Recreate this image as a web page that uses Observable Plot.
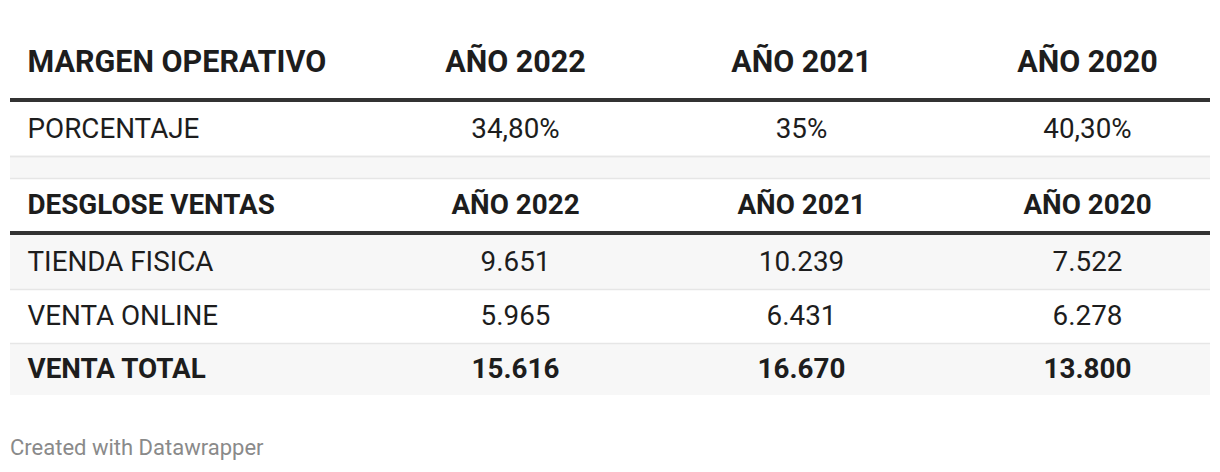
<!DOCTYPE html>
<html>
<head>
<meta charset="utf-8">
<script src="https://cdn.jsdelivr.net/npm/d3@7"></script>
<script src="https://cdn.jsdelivr.net/npm/@observablehq/plot@0.6"></script>
<style>
  html, body { margin: 0; padding: 0; background: #fff; }
  #chart svg { display: block; font-family: Roboto, "Noto Sans", sans-serif; }
  #caption { font-family: Roboto, "Noto Sans", sans-serif; font-size: 22px; line-height: 26px; color: #8a8a8a; margin: 30px 0 0 10px; }
</style>
</head>
<body>
<div id="chart"></div>
<div id="caption">Created with Datawrapper</div>
<script>
// ---- data ----
const yearHeaders = ["AÑO 2022", "AÑO 2021", "AÑO 2020"];
const section1Title = "MARGEN OPERATIVO";
const pctLabel = "PORCENTAJE";
const pctValues = ["34,80%", "35%", "40,30%"];
const section2Title = "DESGLOSE VENTAS";
const tiendaLabel = "TIENDA FISICA";
const tiendaFisica = [9651, 10239, 7522];
const onlineLabel = "VENTA ONLINE";
const ventaOnline = [5965, 6431, 6278];
const totalLabel = "VENTA TOTAL";
const ventaTotal = [15616, 16670, 13800];

// ---- formatting ----
const es = d3.formatLocale({decimal: ",", thousands: ".", grouping: [3], currency: ["", " €"]});
const fmt = es.format(",d");

// ---- row layout (type -> height) ----
const H = { head1: 72, head2: 53, thick: 4, body: 54, spacer: 22, total: 52 };
const rowSpec = [
  {type: "head1", label: section1Title, values: yearHeaders},
  {type: "thick"},
  {type: "body", label: pctLabel, values: pctValues, fill: false, border: true},
  {type: "spacer"},
  {type: "head2", label: section2Title, values: yearHeaders},
  {type: "thick"},
  {type: "body", label: tiendaLabel, values: tiendaFisica.map(fmt), fill: true, border: true},
  {type: "body", label: onlineLabel, values: ventaOnline.map(fmt), fill: false, border: true},
  {type: "total", label: totalLabel, values: ventaTotal.map(fmt), fill: true, border: false}
];
let yPos = 26;
const rows = rowSpec.map(r => {
  const o = {...r, y1: yPos, y2: yPos + H[r.type]};
  o.yc = (o.y1 + o.y2) / 2;
  yPos = o.y2;
  return o;
});
const totalH = yPos + 10;

const textRows = rows.filter(r => r.label);
const labels = textRows.map(r => ({label: r.label, y: r.yc, type: r.type}));
const cells = textRows.flatMap(r => r.values.map((v, i) => ({col: yearHeaders[i], v, y: r.yc, type: r.type})));

const bold = t => t !== "body";
const size = t => t === "head1" ? 30.5 : 27.8;

const fills = rows.filter(r => r.fill || r.type === "spacer");
const thick = rows.filter(r => r.type === "thick");
const borders = rows.filter(r => r.border).map(r => ({y: r.y2}))
  .concat(rows.filter(r => r.type === "spacer").flatMap(r => [{y: r.y1}, {y: r.y2}]));

const marks = [
  Plot.rect(fills, {y1: "y1", y2: "y2", fill: "#f7f7f7"}),
  Plot.ruleY(borders, {y: "y", stroke: "#e6e6e6", strokeWidth: 1.5}),
  Plot.rect(thick, {y1: "y1", y2: "y2", fill: "#333333"}),
];
for (const t of ["head1", "head2", "body", "total"]) {
  marks.push(Plot.text(labels.filter(d => d.type === t), {
    y: "y", text: "label", frameAnchor: "left", dx: 17, textAnchor: "start",
    fontSize: size(t), fontWeight: bold(t) ? "bold" : "normal", fill: "#1d1d1d", lineAnchor: "middle"
  }));
  marks.push(Plot.text(cells.filter(d => d.type === t), {
    x: "col", y: "y", text: "v", textAnchor: "middle",
    fontSize: size(t), fontWeight: bold(t) ? "bold" : "normal", fill: "#1d1d1d", lineAnchor: "middle"
  }));
}

const chart = Plot.plot({
  width: 1220,
  height: totalH,
  marginLeft: 10, marginRight: 10, marginTop: 0, marginBottom: 0,
  x: {type: "point", domain: yearHeaders, range: [515, 1087], padding: 0, axis: null},
  y: {type: "linear", domain: [0, totalH], range: [0, totalH], axis: null},
  marks
});
document.getElementById("chart").appendChild(chart);
</script>
</body>
</html>
